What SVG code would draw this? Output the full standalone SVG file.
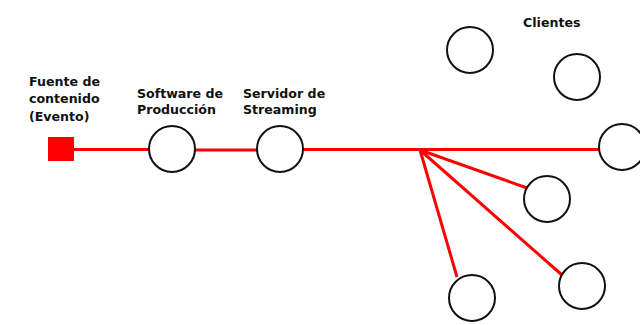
<svg xmlns="http://www.w3.org/2000/svg" width="640" height="325" viewBox="0 0 640 325">
<style>
.t{font-family:"DejaVu Sans","Verdana",sans-serif;font-size:12.6px;font-weight:bold;fill:#111}
.n{fill:#fff;stroke:#111;stroke-width:2}
.c{stroke:#f00;stroke-width:3;fill:none}
</style>
<rect width="640" height="325" fill="#fff"/>
<g id="connectors">
<line class="c" x1="74" y1="149.5" x2="150" y2="149.5"/>
<line class="c" x1="195" y1="150" x2="257" y2="150"/>
<line class="c" x1="303" y1="149.5" x2="600" y2="149.5"/>
<line class="c" x1="420" y1="150" x2="527" y2="188"/>
<line class="c" x1="420" y1="150" x2="562" y2="275"/>
<line class="c" x1="420" y1="150" x2="457" y2="277"/>
</g>
<g id="fuente">
<rect x="48" y="137" width="26" height="24" fill="#f00"/>
<text class="t" x="29" y="86">Fuente de</text>
<text class="t" x="29" y="103">contenido</text>
<text class="t" x="29" y="121">(Evento)</text>
</g>
<g id="software">
<circle class="n" cx="172" cy="149" r="23"/>
<text class="t" x="137" y="98">Software de</text>
<text class="t" x="137" y="114">Producción</text>
</g>
<g id="servidor">
<circle class="n" cx="280" cy="149" r="23"/>
<text class="t" x="243" y="98">Servidor de</text>
<text class="t" x="243" y="114">Streaming</text>
</g>
<g id="clientes-label"><text class="t" x="523" y="27">Clientes</text></g>
<g id="cliente1"><circle class="n" cx="470" cy="50" r="23"/></g>
<g id="cliente2"><circle class="n" cx="577" cy="77" r="23"/></g>
<g id="cliente3"><circle class="n" cx="622" cy="147" r="23"/></g>
<g id="cliente4"><circle class="n" cx="547" cy="199" r="23"/></g>
<g id="cliente5"><circle class="n" cx="582" cy="286" r="23"/></g>
<g id="cliente6"><circle class="n" cx="472" cy="298" r="23"/></g>
</svg>
